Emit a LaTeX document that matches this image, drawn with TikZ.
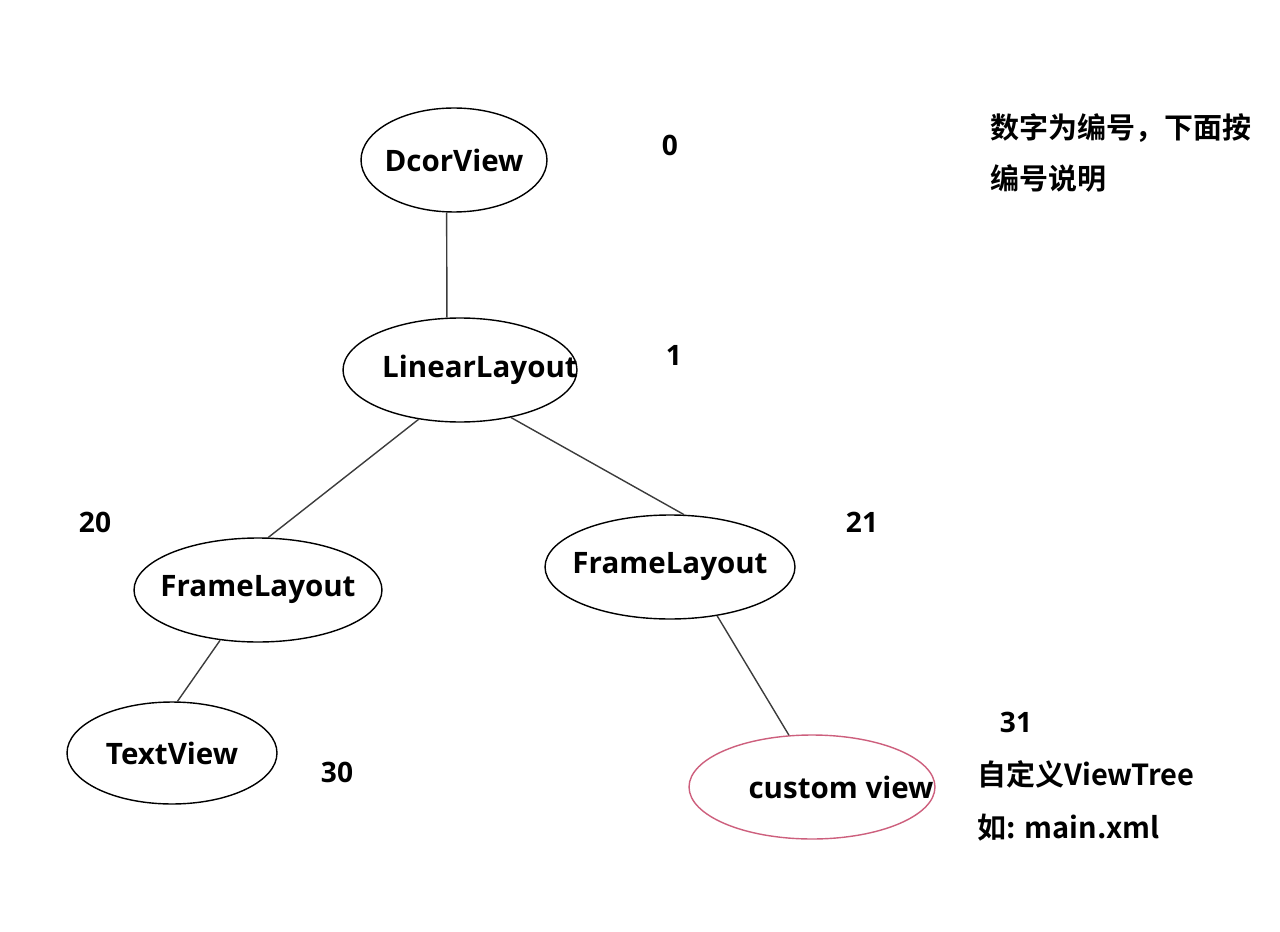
\documentclass[tikz,border=0pt]{standalone}
\usepackage{fontspec}
\setmainfont{Open Sans}
\newfontfamily\cjk{Noto Sans CJK SC}[BoldFont={Noto Sans CJK SC Bold}]
\usepackage{tikz}
\usetikzlibrary{positioning,shapes.geometric}
\definecolor{cvred}{RGB}{205,95,125}
\definecolor{edgegray}{RGB}{60,60,60}
\newcommand{\etext}[2][0pt]{\makebox[0pt]{\hspace*{#1}#2}}
\tikzset{
  viewnode/.style={ellipse, draw=black, line width=0.8pt, inner sep=0pt, font=\fontsize{16.8}{19}\selectfont\bfseries},
  custom/.style={viewnode, draw=cvred},
  edge/.style={draw=edgegray, line width=0.8pt},
  number/.style={font=\fontsize{16}{19}\selectfont\bfseries, inner sep=0pt},
  note/.style={font=\fontsize{16.5}{19}\selectfont\bfseries\cjk, inner sep=0pt, anchor=west}
}

\begin{document}
\begin{tikzpicture}[x=0.02cm, y=-0.02cm]
  \useasboundingbox (0,0) rectangle (1280,932);
  % Nodes
  \node (dcor) [viewnode, minimum width=3.72cm, minimum height=2.08cm] at (454,160) {\etext{DcorView}};
  \node (linear) [viewnode, minimum width=4.68cm, minimum height=2.08cm] at (460,370) {\etext[0.8cm]{LinearLayout}};
  \node (frameA) [viewnode, minimum width=4.96cm, minimum height=2.08cm] at (258,590) {\etext{FrameLayout}};
  \node (frameB) [viewnode, minimum width=5.0cm, minimum height=2.08cm] at (670,567) {\etext{FrameLayout}};
  \node (text) [viewnode, minimum width=4.2cm, minimum height=2.04cm] at (172,753) {\etext{TextView}};
  \node (cview) [custom, minimum width=4.92cm, minimum height=2.08cm] at (812,787) {\etext[1.16cm]{custom view}};

  % Edges
  \draw [edge] (dcor.262) -- (linear.104);
  \draw [edge] (linear.230) -- (frameA.79);
  \draw [edge] (linear.317) -- (frameB.75);
  \draw [edge] (frameA.233) -- (text.84);
  \draw [edge] (frameB.314) -- (cview.114);

  % Numbers
  \node (n0) [number] at (670,145) {0};
  \node (n1) [number] at (674,355) {1};
  \node (n20) [number] at (95,522) {20};
  \node (n21) [number] at (862,522) {21};
  \node (n30) [number] at (337,772) {30};
  \node (n31) [number] at (1016,722) {31};

  % Notes
  \node (noteA) [note] at (990,128) {数字为编号，下面按};
  \node (noteB) [note] at (990,178) {编号说明};
  \node (noteC) [note] at (977,774) {自定义ViewTree};
  \node (noteD) [note, below=0.5cm of noteC.south west, anchor=north west] {如: main.xml};
\end{tikzpicture}
\end{document}
